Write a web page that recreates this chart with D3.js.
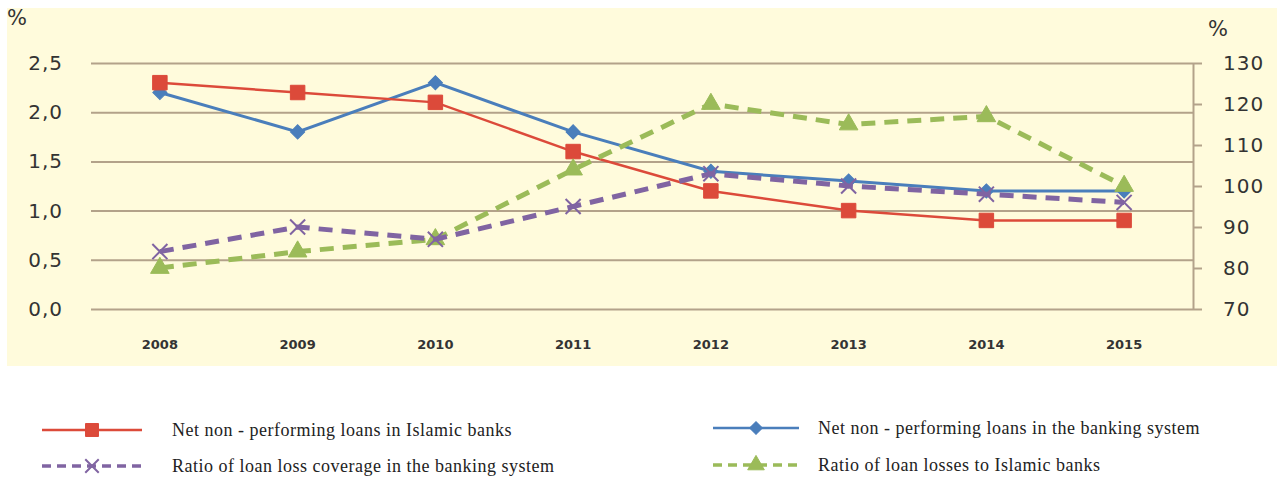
<!DOCTYPE html>
<html>
<head>
<meta charset="utf-8">
<script src="https://cdn.jsdelivr.net/npm/d3@7"></script>
<style>
  body { margin: 0; background: #fff; }
  svg { display: block; }
</style>
</head>
<body>
<svg id="chart" width="1281" height="479"></svg>
<script>
const years = ["2008", "2009", "2010", "2011", "2012", "2013", "2014", "2015"];
const islamicNpl = [2.3, 2.2, 2.1, 1.6, 1.2, 1.0, 0.9, 0.9];
const systemNpl = [2.2, 1.8, 2.3, 1.8, 1.4, 1.3, 1.2, 1.2];
const lossCoverage = [84, 90, 87, 95, 103, 100, 98, 96];
const islamicLossRatio = [80, 84, 87, 104, 120, 115, 117, 100];
const leftTicks = [0, 0.5, 1.0, 1.5, 2.0, 2.5];
const rightTicks = [70, 80, 90, 100, 110, 120, 130];

const svg = d3.select("#chart");
const plotLeft = 91, plotRight = 1193, plotTop = 63, plotBottom = 309;
const gridColor = "#b3a28a";
const textColor = "#333";

// cream panel
svg.append("rect")
  .attr("x", 7).attr("y", 8)
  .attr("width", 1270).attr("height", 358)
  .attr("fill", "#fffbdc");

const x = d3.scaleBand()
  .domain(years)
  .range([plotLeft, plotRight])
  .padding(0);

const yL = d3.scaleLinear().domain([0, 2.5]).range([plotBottom, plotTop]);
const yR = d3.scaleLinear().domain([70, 130]).range([plotBottom, plotTop]);

const comma = (v) => d3.format(".1f")(v).replace(".", ",");

const tickText = (g) => g.selectAll(".tick text")
  .attr("fill", textColor)
  .style("font-family", "'DejaVu Sans', sans-serif")
  .style("font-size", "20px")
  .style("letter-spacing", "1px");

// left axis + gridlines
svg.append("g")
  .attr("transform", `translate(${plotLeft},0)`)
  .call(d3.axisLeft(yL).tickValues(leftTicks).tickFormat(comma)
    .tickSize(-(plotRight - plotLeft)).tickPadding(28))
  .call((g) => g.select(".domain").remove())
  .call((g) => g.selectAll(".tick line").attr("stroke", gridColor).attr("stroke-width", 2))
  .call(tickText);

// right axis
svg.append("g")
  .attr("transform", `translate(${plotRight},0)`)
  .call(d3.axisRight(yR).tickValues(rightTicks).tickSize(9).tickPadding(21).tickSizeOuter(0))
  .call((g) => g.select(".domain").attr("stroke", gridColor).attr("stroke-width", 2))
  .call((g) => g.selectAll(".tick line").attr("stroke", gridColor).attr("stroke-width", 2))
  .call(tickText);

// x axis labels
svg.append("g")
  .attr("transform", `translate(0,340)`)
  .call(d3.axisBottom(x).tickSize(0).tickPadding(0))
  .call((g) => g.select(".domain").remove())
  .call((g) => g.selectAll(".tick text")
    .attr("fill", "#333")
    .style("font-family", "'DejaVu Sans', sans-serif")
    .style("font-weight", "bold")
    .style("font-size", "13px"));

// unit labels
svg.append("text").attr("x", 7).attr("y", 25)
  .attr("fill", textColor)
  .style("font-family", "'DejaVu Sans', sans-serif").style("font-size", "21px")
  .text("%");
svg.append("text").attr("x", 1208).attr("y", 36)
  .attr("fill", textColor)
  .style("font-family", "'DejaVu Sans', sans-serif").style("font-size", "21px")
  .text("%");

const cx = (i) => x(years[i]) + x.bandwidth() / 2;

const series = [
  { name: "Net non - performing loans in the banking system", values: systemNpl, scale: yL,
    color: "#4a7ebb", width: 3, dash: null, symbol: d3.symbolSquare, size: 100, rotate: 45, hollow: false },
  { name: "Net non - performing loans in Islamic banks", values: islamicNpl, scale: yL,
    color: "#dc4a3a", width: 2.5, dash: null, symbol: d3.symbolSquare, size: 210, rotate: 0, hollow: false },
  { name: "Ratio of loan losses to Islamic banks", values: islamicLossRatio, scale: yR,
    color: "#9bbb59", width: 5, dash: "14,9", symbol: d3.symbolTriangle, size: 150, rotate: 0, hollow: false },
  { name: "Ratio of loan loss coverage in the banking system", values: lossCoverage, scale: yR,
    color: "#8064a2", width: 5, dash: "14,9", symbol: d3.symbolX, size: 150, rotate: 0, hollow: true }
];

const line = (s) => d3.line()
  .x((d, i) => cx(i))
  .y((d) => s.scale(d));

const plot = svg.append("g");

series.forEach((s) => {
  plot.append("path")
    .datum(s.values)
    .attr("fill", "none")
    .attr("stroke", s.color)
    .attr("stroke-width", s.width)
    .attr("stroke-dasharray", s.dash)
    .attr("d", line(s));

  plot.selectAll(null)
    .data(s.values)
    .join("path")
    .attr("transform", (d, i) => `translate(${cx(i)},${s.scale(d)}) rotate(${s.rotate})`)
    .attr("d", d3.symbol(s.symbol, s.size))
    .attr("fill", s.hollow ? "none" : s.color)
    .attr("stroke", s.color)
    .attr("stroke-width", s.hollow ? 2 : 1);
});

// legend
const legendItems = [
  { s: series[1], lx: 42, ly: 430 },
  { s: series[0], lx: 713, ly: 428 },
  { s: series[3], lx: 42, ly: 466 },
  { s: series[2], lx: 713, ly: 465 }
];

legendItems.forEach(({ s, lx, ly }) => {
  const w = lx < 100 ? 100 : 86;
  const g = svg.append("g").attr("transform", `translate(${lx},${ly})`);
  g.append("line")
    .attr("x1", 0).attr("x2", w)
    .attr("stroke", s.color)
    .attr("stroke-width", s.dash ? 3.5 : 2.5)
    .attr("stroke-dasharray", s.dash ? "9,6" : null);
  g.append("path")
    .attr("transform", `translate(${w / 2},0) rotate(${s.rotate})`)
    .attr("d", d3.symbol(s.symbol, s.size * 0.8))
    .attr("fill", s.hollow ? "none" : s.color)
    .attr("stroke", s.color)
    .attr("stroke-width", s.hollow ? 2 : 1);
  g.append("text")
    .attr("x", w + (lx < 100 ? 30 : 19))
    .attr("dy", "0.33em")
    .attr("fill", "#222")
    .style("font-family", "'Liberation Serif', serif")
    .style("font-size", "18px")
    .style("letter-spacing", "0.5px")
    .text(s.name);
});
</script>
</body>
</html>
